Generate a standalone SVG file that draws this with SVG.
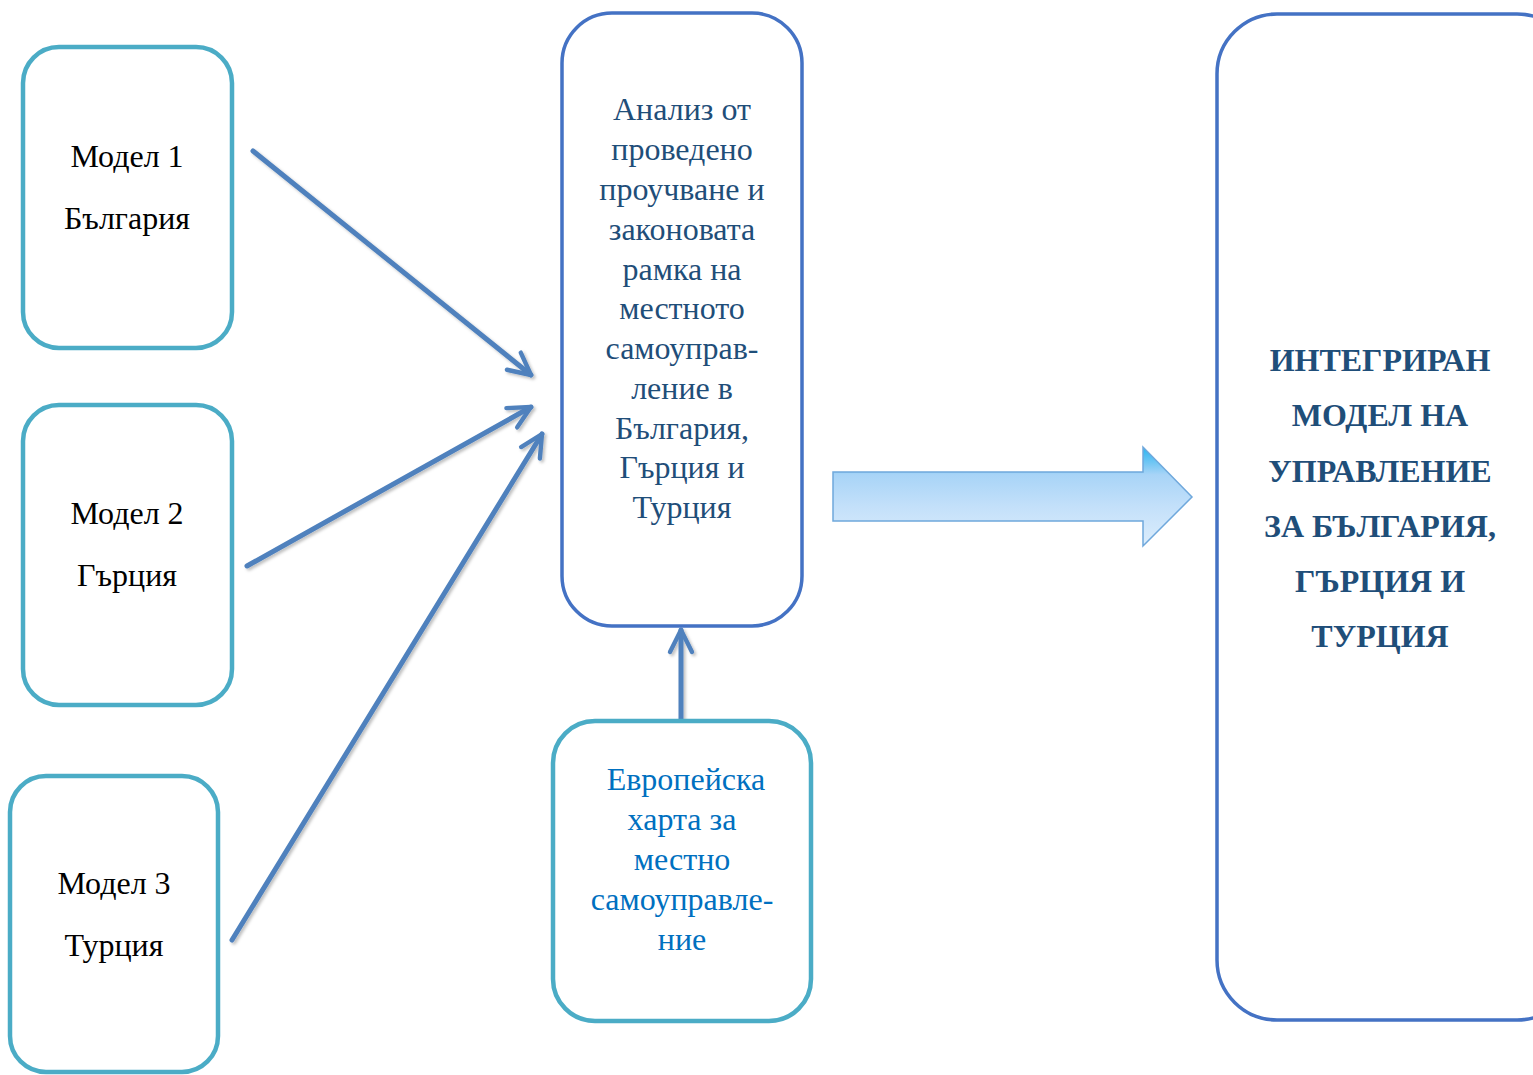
<svg xmlns="http://www.w3.org/2000/svg" width="1533" height="1075" viewBox="0 0 1533 1075">
<defs>
<style>
.box1{fill:#fff;stroke:#4BACC6;stroke-width:4.5}
.box2{fill:#fff;stroke:#4472C4;stroke-width:3.5}
.t{font-family:"Liberation Serif","Times New Roman",serif;font-size:32px;text-anchor:middle}
.blk{fill:#000}
.dk{fill:#1F4E79}
.lb{fill:#0070C0}
.bd{fill:#1F4E79;font-weight:bold}
.con{stroke:#4F81BD;stroke-width:5;fill:none;stroke-linecap:round;marker-end:url(#ah)}
</style>
<marker id="ah" viewBox="0 0 10 10" refX="9" refY="5" markerWidth="5.5" markerHeight="5.5" orient="auto" markerUnits="strokeWidth">
<path d="M1,1 L9,5 L1,9" fill="none" stroke="#4F81BD" stroke-width="1.6" stroke-linecap="round" stroke-linejoin="round"/>
</marker>
<linearGradient id="bg" x1="0" y1="0" x2="0" y2="1">
<stop offset="0" stop-color="#28B4F0"/>
<stop offset="0.28" stop-color="#A8D4F7"/>
<stop offset="0.6" stop-color="#C3E0FA"/>
<stop offset="1" stop-color="#DCEDFC"/>
</linearGradient>
<filter id="sh" x="-10%" y="-10%" width="130%" height="130%">
<feDropShadow dx="2" dy="2" stdDeviation="1.5" flood-color="#000" flood-opacity="0.25"/>
</filter>
</defs>

<g id="connectors" filter="url(#sh)">
<line class="con" x1="253" y1="151" x2="531" y2="375"/>
<line class="con" x1="247" y1="566" x2="531" y2="407"/>
<line class="con" x1="232" y1="940" x2="542" y2="434"/>
<line class="con" x1="681" y1="720" x2="681" y2="630"/>
</g>

<g id="model1">
<rect class="box1" x="23" y="47" width="209" height="301" rx="36"/>
<text class="t blk" x="127" y="167">Модел 1</text>
<text class="t blk" x="127" y="229">България</text>
</g>

<g id="model2">
<rect class="box1" x="23" y="405" width="209" height="300" rx="36"/>
<text class="t blk" x="127" y="524">Модел 2</text>
<text class="t blk" x="127" y="586">Гърция</text>
</g>

<g id="model3">
<rect class="box1" x="10" y="776" width="208" height="296" rx="36"/>
<text class="t blk" x="114" y="894">Модел 3</text>
<text class="t blk" x="114" y="956">Турция</text>
</g>

<g id="analysis">
<rect class="box2" x="562" y="13" width="240" height="613" rx="50"/>
<text class="t dk" x="682" y="120">Анализ от</text>
<text class="t dk" x="682" y="160">проведено</text>
<text class="t dk" x="682" y="200">проучване и</text>
<text class="t dk" x="682" y="240">законовата</text>
<text class="t dk" x="682" y="280">рамка на</text>
<text class="t dk" x="682" y="319">местното</text>
<text class="t dk" x="682" y="359">самоуправ-</text>
<text class="t dk" x="682" y="399">ление в</text>
<text class="t dk" x="682" y="439">България,</text>
<text class="t dk" x="682" y="478">Гърция и</text>
<text class="t dk" x="682" y="518">Турция</text>
</g>

<g id="charter">
<rect class="box1" x="553" y="721" width="258" height="300" rx="42"/>
<text class="t lb" x="686" y="790">Европейска</text>
<text class="t lb" x="682" y="830">харта за</text>
<text class="t lb" x="682" y="870">местно</text>
<text class="t lb" x="682" y="910">самоуправле-</text>
<text class="t lb" x="682" y="950">ние</text>
</g>

<g id="bigarrow">
<path d="M833,472 L1143,472 L1143,447 L1192,497 L1143,546 L1143,521 L833,521 Z" fill="url(#bg)" stroke="#6FA8DC" stroke-width="1.5"/>
</g>

<g id="integrated">
<rect class="box2" x="1217" y="14" width="360" height="1006" rx="60"/>
<text class="t bd" x="1380" y="371">ИНТЕГРИРАН</text>
<text class="t bd" x="1380" y="426">МОДЕЛ НА</text>
<text class="t bd" x="1380" y="482">УПРАВЛЕНИЕ</text>
<text class="t bd" x="1380" y="537">ЗА БЪЛГАРИЯ,</text>
<text class="t bd" x="1380" y="592">ГЪРЦИЯ И</text>
<text class="t bd" x="1380" y="647">ТУРЦИЯ</text>
</g>
</svg>
